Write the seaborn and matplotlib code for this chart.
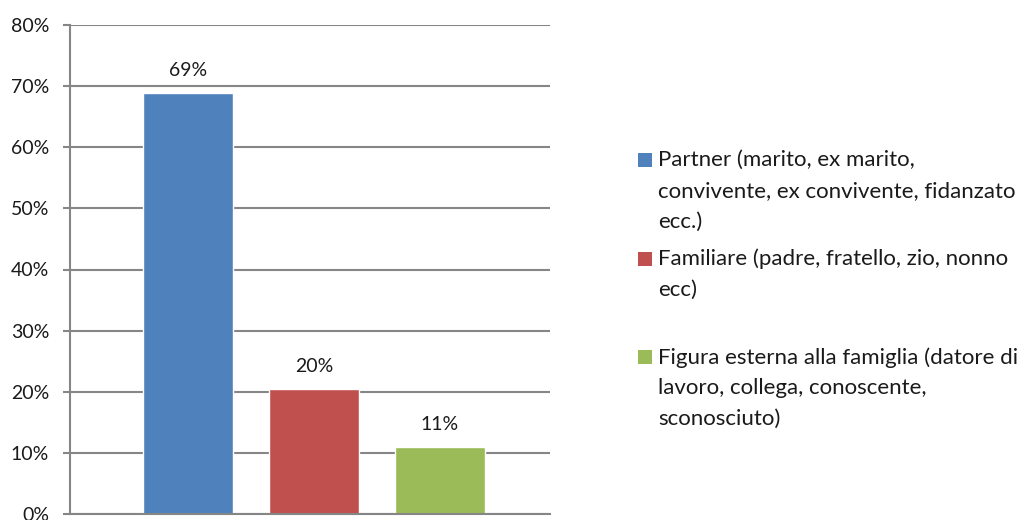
import matplotlib.pyplot as plt
import pandas as pd
import seaborn as sns
from matplotlib.patches import Rectangle
from matplotlib.ticker import PercentFormatter

categories = [
    "Partner (marito, ex marito,\nconvivente, ex convivente, fidanzato\necc.)",
    "Familiare (padre, fratello, zio, nonno\necc)",
    "Figura esterna alla famiglia (datore di\nlavoro, collega, conoscente,\nsconosciuto)",
]
shares = [68.9, 20.4, 11.0]
colors = ["#4F81BD", "#C0504D", "#9BBB59"]
yticks = [0, 10, 20, 30, 40, 50, 60, 70, 80]

sns.set_theme(style="white")
plt.rcParams["font.family"] = ["Lato", "DejaVu Sans"]

grid_color = "#868686"
text_color = "#1a1a1a"
W, H = 1029, 520

df = pd.DataFrame({"category": categories, "share": shares})

fig = plt.figure(figsize=(W / 100, H / 100), dpi=100)
ax = fig.add_axes([70 / W, 6 / H, 480 / W, 489 / H])

sns.barplot(data=df, x="category", y="share", hue="category", palette=colors,
            order=categories, hue_order=categories, width=0.71,
            legend=False, saturation=1, ax=ax)

for container in ax.containers:
    ax.bar_label(container, fmt="%.0f%%", padding=10, fontsize=14, color=text_color)

ax.set_ylim(0, 80)
ax.set_xlim(-0.937, 2.873)
ax.set_yticks(yticks)
ax.yaxis.set_major_formatter(PercentFormatter(decimals=0))
ax.set_xticks([])
ax.set_xlabel("")
ax.set_ylabel("")
ax.tick_params(axis="y", labelsize=14, length=5, width=1.5, color=grid_color,
               pad=10, labelcolor=text_color, left=True)
ax.yaxis.grid(True, color=grid_color, linewidth=1.5)
ax.set_axisbelow(True)

for side in ["top", "right"]:
    ax.spines[side].set_visible(False)
for side in ["left", "bottom"]:
    ax.spines[side].set_color(grid_color)
    ax.spines[side].set_linewidth(1.5)

# legend drawn by hand so the swatch sits on the first text line (Excel style)
entry_step = 98.5
for i, (label, color) in enumerate(zip(categories, colors)):
    y_mid = 160 + i * entry_step
    fig.add_artist(Rectangle((638 / W, 1 - (y_mid + 7) / H), 14 / W, 14 / H,
                             transform=fig.transFigure, facecolor=color,
                             edgecolor="none"))
    fig.text(658 / W, 1 - (y_mid - 10) / H, label, ha="left", va="top",
             fontsize=16, linespacing=1.68, color=text_color)

fig.savefig("out.png", dpi=100)
